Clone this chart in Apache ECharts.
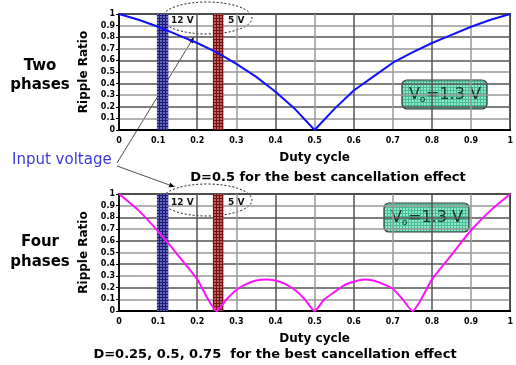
<!DOCTYPE html>
<html>
<head>
<meta charset="utf-8">
<script src="https://cdn.jsdelivr.net/npm/echarts@6/dist/echarts.min.js"></script>
<style>
  html, body { margin: 0; padding: 0; background: #fff; }
  #chart { width: 516px; height: 365px; }
</style>
</head>
<body>
<div id="chart"></div>
<script>
// duty cycle vs ripple ratio
const dutyTwo = [0, 0.05, 0.1, 0.15, 0.2, 0.25, 0.3, 0.35, 0.4, 0.45, 0.5,
                 0.55, 0.6, 0.65, 0.7, 0.75, 0.8, 0.85, 0.9, 0.95, 1];
const rippleTwo = [1, 0.95, 0.89, 0.82, 0.75, 0.67, 0.57, 0.46, 0.33, 0.18, 0,
                   0.18, 0.34, 0.46, 0.58, 0.67, 0.75, 0.82, 0.89, 0.95, 1];

const dutyFour = [0, 0.05, 0.1, 0.15, 0.2, 0.25, 0.275, 0.3, 0.325, 0.35, 0.375,
                  0.4, 0.425, 0.45, 0.475, 0.5, 0.525, 0.55, 0.575, 0.6, 0.625,
                  0.65, 0.675, 0.7, 0.725, 0.75, 0.8, 0.85, 0.9, 0.95, 1];
const rippleFour = [1, 0.86, 0.68, 0.48, 0.27, 0, 0.1, 0.18, 0.23, 0.26, 0.27,
                    0.26, 0.23, 0.18, 0.1, 0, 0.1, 0.16, 0.22, 0.25, 0.27,
                    0.26, 0.23, 0.19, 0.1, 0, 0.27, 0.48, 0.69, 0.86, 1];

// input voltage bands (duty cycle ranges)
const bandBlue = [0.097, 0.126];
const bandRed = [0.24, 0.267];

const FONT = 'DejaVu Sans';

function hatch(bg, fg, step) {
    const c = document.createElement('canvas');
    c.width = c.height = step;
    const g = c.getContext('2d');
    g.fillStyle = bg;
    g.fillRect(0, 0, step, step);
    g.fillStyle = fg;
    g.fillRect(0, 0, step, 1);
    g.fillRect(0, 0, 1, step);
    return { image: c, repeat: 'repeat' };
}

const bluePattern = hatch('#6464b8', '#1c1c78', 3);
const redPattern = hatch('#c06262', '#741010', 3);
const greenPattern = hatch('#8fe8c8', '#46bc98', 3);

function zip(xs, ys) {
    return xs.map((x, i) => [x, ys[i]]);
}

function arrow(x1, y1, x2, y2) {
    const dx = x2 - x1, dy = y2 - y1;
    const len = Math.sqrt(dx * dx + dy * dy);
    const ux = dx / len, uy = dy / len;
    const bx = x2 - ux * 6, by = y2 - uy * 6;
    return [
        { type: 'line', shape: { x1, y1, x2: bx, y2: by }, style: { stroke: '#222', lineWidth: 0.8 } },
        { type: 'polygon', shape: { points: [[x2, y2], [bx - uy * 2.5, by + ux * 2.5], [bx + uy * 2.5, by - ux * 2.5]] },
          style: { fill: '#111' } }
    ];
}

function vBox(x, y) {
    return [
        { type: 'rect', shape: { x: x, y: y, width: 85, height: 29, r: 5 },
          style: { fill: greenPattern, stroke: '#333', lineWidth: 1.2 } },
        { type: 'text', x: x + 7, y: y + 15, style: { text: 'V', font: '16px ' + FONT, fill: '#163226', verticalAlign: 'middle' } },
        { type: 'text', x: x + 18, y: y + 20, style: { text: 'o', font: '9px ' + FONT, fill: '#163226', verticalAlign: 'middle' } },
        { type: 'text', x: x + 24, y: y + 15, style: { text: '=1.3 V', font: '16px ' + FONT, fill: '#163226', verticalAlign: 'middle' } }
    ];
}

function voltEllipse(cy) {
    return [
        { type: 'ellipse', shape: { cx: 207, cy: cy, rx: 45, ry: 16 },
          style: { fill: 'none', stroke: '#222', lineWidth: 1, lineDash: [2, 2] } },
        { type: 'text', x: 171, y: cy + 3, style: { text: '12 V', font: 'bold 9px ' + FONT, fill: '#111', verticalAlign: 'middle' } },
        { type: 'text', x: 228, y: cy + 3, style: { text: '5 V', font: 'bold 9px ' + FONT, fill: '#111', verticalAlign: 'middle' } }
    ];
}

const grids = [
    { left: 119, top: 14, width: 393, height: 116 },
    { left: 119, top: 194, width: 393, height: 117 }
];

function xAxisFor(i) {
    return {
        type: 'value', gridIndex: i, min: 0, max: 1, interval: 0.1,
        name: 'Duty cycle', nameLocation: 'middle', nameGap: 22,
        nameTextStyle: { fontFamily: FONT, fontWeight: 'bold', fontSize: 12, color: '#000' },
        axisLine: { lineStyle: { color: '#000', width: 2 } },
        axisTick: { show: false },
        axisLabel: { fontFamily: FONT, fontWeight: 'bold', fontSize: 8, color: '#000', margin: 7 },
        splitLine: { show: true, lineStyle: { color: ['#555', '#999'], width: 1.5 } }
    };
}

function yAxisFor(i) {
    return {
        type: 'value', gridIndex: i, min: 0, max: 1, interval: 0.1,
        name: 'Ripple Ratio', nameLocation: 'middle', nameGap: 21,
        nameTextStyle: { fontFamily: FONT, fontWeight: 'bold', fontSize: 12, color: '#000' },
        axisLine: { lineStyle: { color: '#000', width: 1.5 } },
        axisTick: { show: true, length: 3, lineStyle: { color: '#000' } },
        axisLabel: { fontFamily: FONT, fontWeight: 'bold', fontSize: 8, color: '#000', margin: 4 },
        splitLine: { show: true, lineStyle: { color: ['#555', '#999'], width: 1.5 } }
    };
}

function bandArea() {
    return {
        silent: true,
        data: [
            [{ xAxis: bandBlue[0], itemStyle: { color: bluePattern } }, { xAxis: bandBlue[1] }],
            [{ xAxis: bandRed[0], itemStyle: { color: redPattern } }, { xAxis: bandRed[1] }]
        ]
    };
}

const chart = echarts.init(document.getElementById('chart'));

chart.setOption({
    animation: false,
    backgroundColor: '#fff',
    grid: grids.map(g => Object.assign({ show: true, borderColor: '#000', borderWidth: 1.5, backgroundColor: '#fff' }, g)),
    xAxis: [xAxisFor(0), xAxisFor(1)],
    yAxis: [yAxisFor(0), yAxisFor(1)],
    series: [
        {
            type: 'line', xAxisIndex: 0, yAxisIndex: 0, data: zip(dutyTwo, rippleTwo),
            showSymbol: false, lineStyle: { color: '#1010ff', width: 2 },
            markArea: bandArea()
        },
        {
            type: 'line', xAxisIndex: 1, yAxisIndex: 1, data: zip(dutyFour, rippleFour),
            showSymbol: false, smooth: 0.2, lineStyle: { color: '#ff10ff', width: 2 },
            markArea: bandArea()
        }
    ],
    graphic: [
        { type: 'text', x: 40, y: 66, style: { text: 'Two', font: 'bold 15px ' + FONT, fill: '#000', align: 'center', verticalAlign: 'middle' } },
        { type: 'text', x: 40, y: 85, style: { text: 'phases', font: 'bold 15px ' + FONT, fill: '#000', align: 'center', verticalAlign: 'middle' } },
        { type: 'text', x: 40, y: 242, style: { text: 'Four', font: 'bold 15px ' + FONT, fill: '#000', align: 'center', verticalAlign: 'middle' } },
        { type: 'text', x: 40, y: 262, style: { text: 'phases', font: 'bold 15px ' + FONT, fill: '#000', align: 'center', verticalAlign: 'middle' } },
        { type: 'text', x: 12, y: 160, style: { text: 'Input voltage', font: '15px ' + FONT, fill: '#3a3ad8', verticalAlign: 'middle' } },
        { type: 'text', x: 328, y: 178, style: { text: 'D=0.5 for the best cancellation effect', font: 'bold 13px ' + FONT, fill: '#000', align: 'center', verticalAlign: 'middle' } },
        { type: 'text', x: 275, y: 355, style: { text: 'D=0.25, 0.5, 0.75  for the best cancellation effect', font: 'bold 13px ' + FONT, fill: '#000', align: 'center', verticalAlign: 'middle' } },
        ...voltEllipse(18),
        ...voltEllipse(200),
        ...arrow(117, 163, 194, 37),
        ...arrow(117, 166, 175, 187),
        ...vBox(402, 80),
        ...vBox(384, 203)
    ]
});
</script>
</body>
</html>
